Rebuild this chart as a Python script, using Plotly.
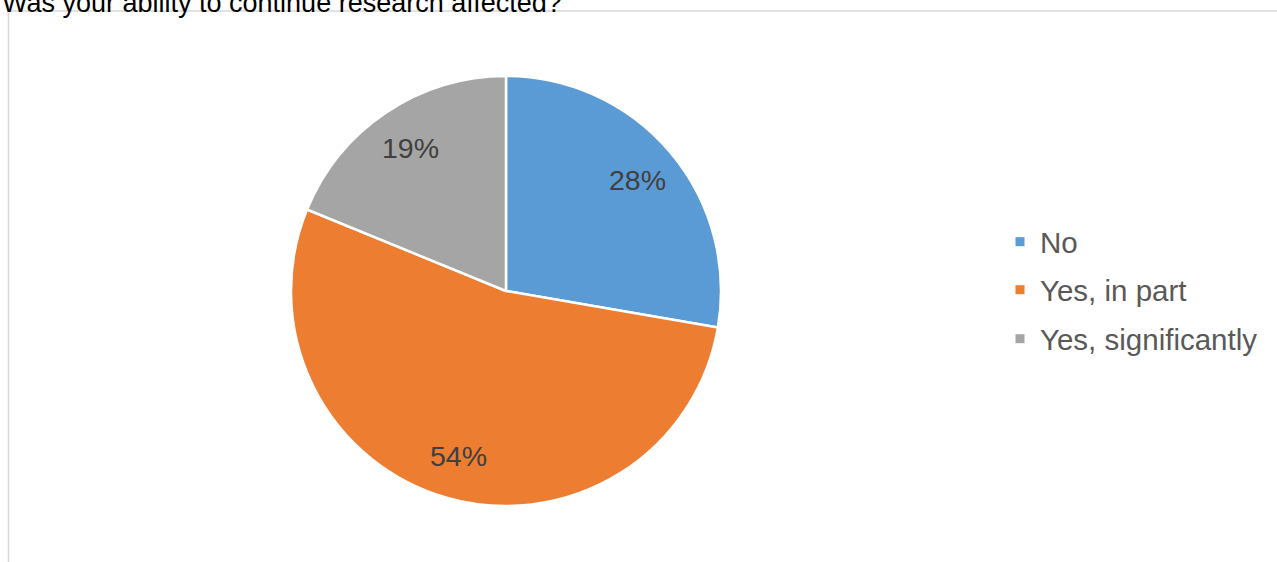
import math
import plotly.graph_objects as go

W, H = 1277, 562

# Survey answers and their shares (in percent)
answers = ["No", "Yes, in part", "Yes, significantly"]
shares = [28, 54, 19]
slice_colors = ["#5B9BD5", "#ED7D31", "#A5A5A5"]
title_text = "Was your ability to continue research affected?"

FONT = "Liberation Sans, Arial, sans-serif"

# pie placement in pixels (margins are zero, so paper == window)
cx, cy, r = 506, 291, 215
label_radius = 0.8 * r

fig = go.Figure()
fig.add_trace(
    go.Pie(
        labels=answers,
        values=shares,
        sort=False,
        direction="clockwise",
        rotation=0,
        marker=dict(colors=slice_colors, line=dict(color="white", width=2.5)),
        textinfo="none",
        hoverinfo="label+percent",
        showlegend=False,
        domain=dict(x=[(cx - r) / W, (cx + r) / W], y=[1 - (cy + r) / H, 1 - (cy - r) / H]),
    )
)

# percentage labels placed along each slice's mid-angle
annotations = []
total = sum(shares)
start = 0.0
for v in shares:
    mid = (start + v / 2) / total * 2 * math.pi
    start += v
    px = cx + label_radius * math.sin(mid)
    py = cy - label_radius * math.cos(mid)
    annotations.append(dict(
        text=f"{v}%", xref="paper", yref="paper", x=px / W, y=1 - py / H,
        xanchor="center", yanchor="middle", showarrow=False,
        font=dict(family=FONT, size=28.5, color="#404040"),
    ))

annotations.append(dict(
    text=title_text, xref="paper", yref="paper", x=0, y=1 + 14 / H,
    xanchor="left", yanchor="top", showarrow=False,
    font=dict(family=FONT, size=27, color="#000000"),
))

# one legend per answer so the row spacing can be set
legend_rows = [242, 290, 339]
legend_names = ["legend", "legend2", "legend3"]
legend_cfg = {}
for name, c, lg, ly in zip(answers, slice_colors, legend_names, legend_rows):
    fig.add_trace(go.Scatter(
        x=[None], y=[None], mode="markers", name=name, legend=lg,
        marker=dict(symbol="square", size=9, color=c), hoverinfo="skip",
    ))
    legend_cfg[lg] = dict(
        x=1000 / W, y=1 - ly / H, xanchor="left", yanchor="middle",
        font=dict(family=FONT, size=29.5, color="#595959"),
        bgcolor="rgba(0,0,0,0)",
    )

fig.update_layout(
    width=W,
    height=H,
    margin=dict(l=0, r=0, t=0, b=0),
    paper_bgcolor="white",
    plot_bgcolor="white",
    showlegend=True,
    xaxis=dict(visible=False),
    yaxis=dict(visible=False),
    shapes=[
        dict(type="line", xref="paper", yref="paper", x0=8.5 / W, x1=1.0, y0=1 - 11 / H, y1=1 - 11 / H,
             line=dict(color="#D9D9D9", width=1.5)),
        dict(type="line", xref="paper", yref="paper", x0=8.5 / W, x1=8.5 / W, y0=0, y1=1 - 11 / H,
             line=dict(color="#D9D9D9", width=1.5)),
    ],
    annotations=annotations,
    **legend_cfg,
)

fig.write_html("out.html")
